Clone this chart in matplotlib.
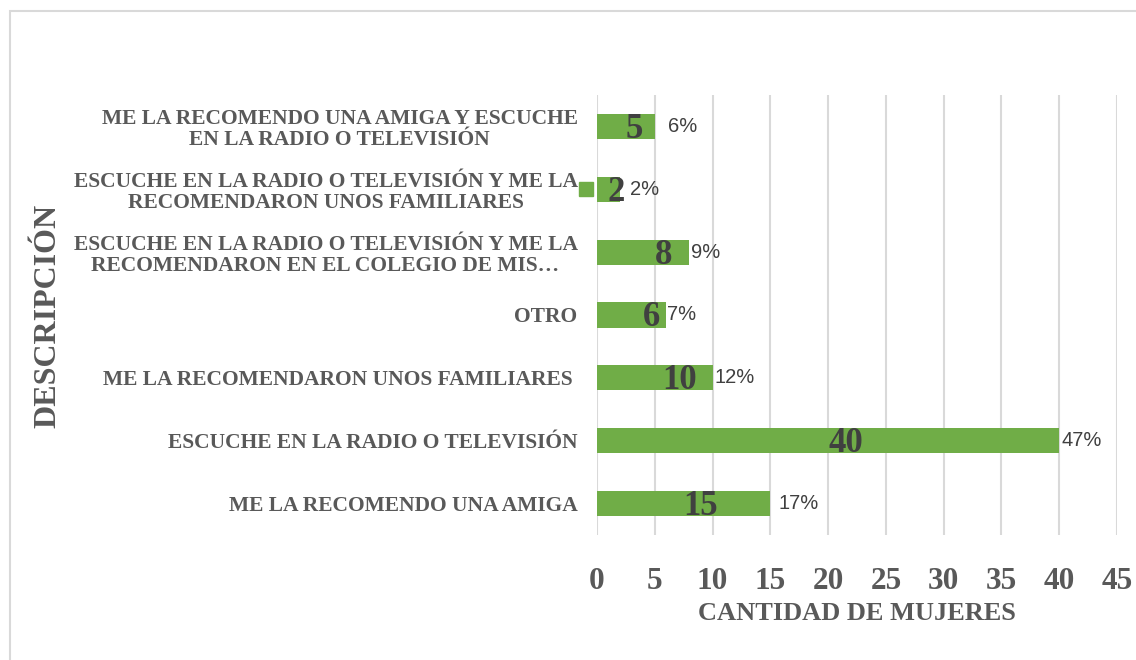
import matplotlib
matplotlib.use("Agg")
import matplotlib.pyplot as plt
import matplotlib.transforms as mtransforms
from matplotlib.patches import Rectangle

categories = [
    "ME LA RECOMENDO UNA AMIGA",
    "ESCUCHE EN LA RADIO O TELEVISIÓN",
    "ME LA RECOMENDARON UNOS FAMILIARES ",
    "OTRO",
    "ESCUCHE EN LA RADIO O TELEVISIÓN Y ME LA\nRECOMENDARON EN EL COLEGIO DE MIS…",
    "ESCUCHE EN LA RADIO O TELEVISIÓN Y ME LA\nRECOMENDARON UNOS FAMILIARES",
    "ME LA RECOMENDO UNA AMIGA Y ESCUCHE\nEN LA RADIO O TELEVISIÓN",
]
values = [15, 40, 10, 6, 8, 2, 5]
percent_labels = ["17%", "47%", "12%", "7%", "9%", "2%", "6%"]
x_ticks = [0, 5, 10, 15, 20, 25, 30, 35, 40, 45]

# label offsets in pixels (styling)
pct_offsets = [8, 2, 2, 1, 2, 10, 13]
val_offsets = [17, 18, 25, 20, 20, 8, 8]

GREEN = "#70AD47"
GRAY = "#595959"
DARK = "#404040"
SERIF = "Liberation Serif"

fig = plt.figure(figsize=(11.36, 6.6), dpi=100)
fig.patch.set_facecolor("white")

# outer chart frame
fig.add_artist(Rectangle((10 / 1136, -0.05), 1.1, 1 - 11 / 660 + 0.05,
                         transform=fig.transFigure, fill=False,
                         edgecolor="#D9D9D9", lw=1.5))

ax = fig.add_axes([597 / 1136, 1 - 535 / 660, (1117 - 597) / 1136, (535 - 95) / 660])
ys = list(range(len(categories)))
ax.barh(ys, values, height=0.4, color=GREEN, zorder=3)

ax.set_xlim(0, 45)
ax.set_ylim(-0.5, len(categories) - 0.5)
ax.set_xticks(x_ticks)
ax.set_xticklabels([str(t) for t in x_ticks], fontfamily=SERIF, fontweight="bold",
                   fontsize=22.5, color=GRAY)
ax.set_yticks(ys)
ax.set_yticklabels(categories, fontfamily=SERIF, fontweight="bold", fontsize=15.5,
                   color=GRAY, multialignment="center", linespacing=1.1)
ax.tick_params(axis="both", length=0)
ax.tick_params(axis="x", pad=23)
ax.tick_params(axis="y", pad=14)
ax.grid(axis="x", color="#D9D9D9", lw=1.5, zorder=0)
for s in ax.spines.values():
    s.set_visible(False)

for y, v, p, po, vo in zip(ys, values, percent_labels, pct_offsets, val_offsets):
    ax.annotate(p, xy=(v, y), xytext=(po, 0), textcoords="offset pixels",
                ha="left", va="center", fontfamily="Liberation Sans",
                fontsize=14.5, color=DARK)
    ax.annotate(str(v), xy=(v / 2, y), xytext=(vo, -3), textcoords="offset pixels",
                ha="center", va="center", fontfamily=SERIF, fontweight="bold",
                fontsize=25, color=DARK, zorder=4)

# small legend-like key beside the "2" bar
idx2 = values.index(2)
trans = mtransforms.offset_copy(ax.transData, fig=fig, x=-11, y=0, units="dots")
ax.plot([0], [idx2], marker="s", markersize=10, color=GREEN, transform=trans,
        clip_on=False, zorder=5)

ax.set_xlabel("CANTIDAD DE MUJERES", fontfamily=SERIF, fontweight="bold",
              fontsize=19, color=GRAY, labelpad=4)
fig.text(48 / 1136, 1 - 316 / 660, "DESCRIPCIÓN", rotation=90, ha="center",
         va="center", fontfamily=SERIF, fontweight="bold", fontsize=23, color=GRAY)

fig.savefig("out.png", dpi=100, facecolor="white")
